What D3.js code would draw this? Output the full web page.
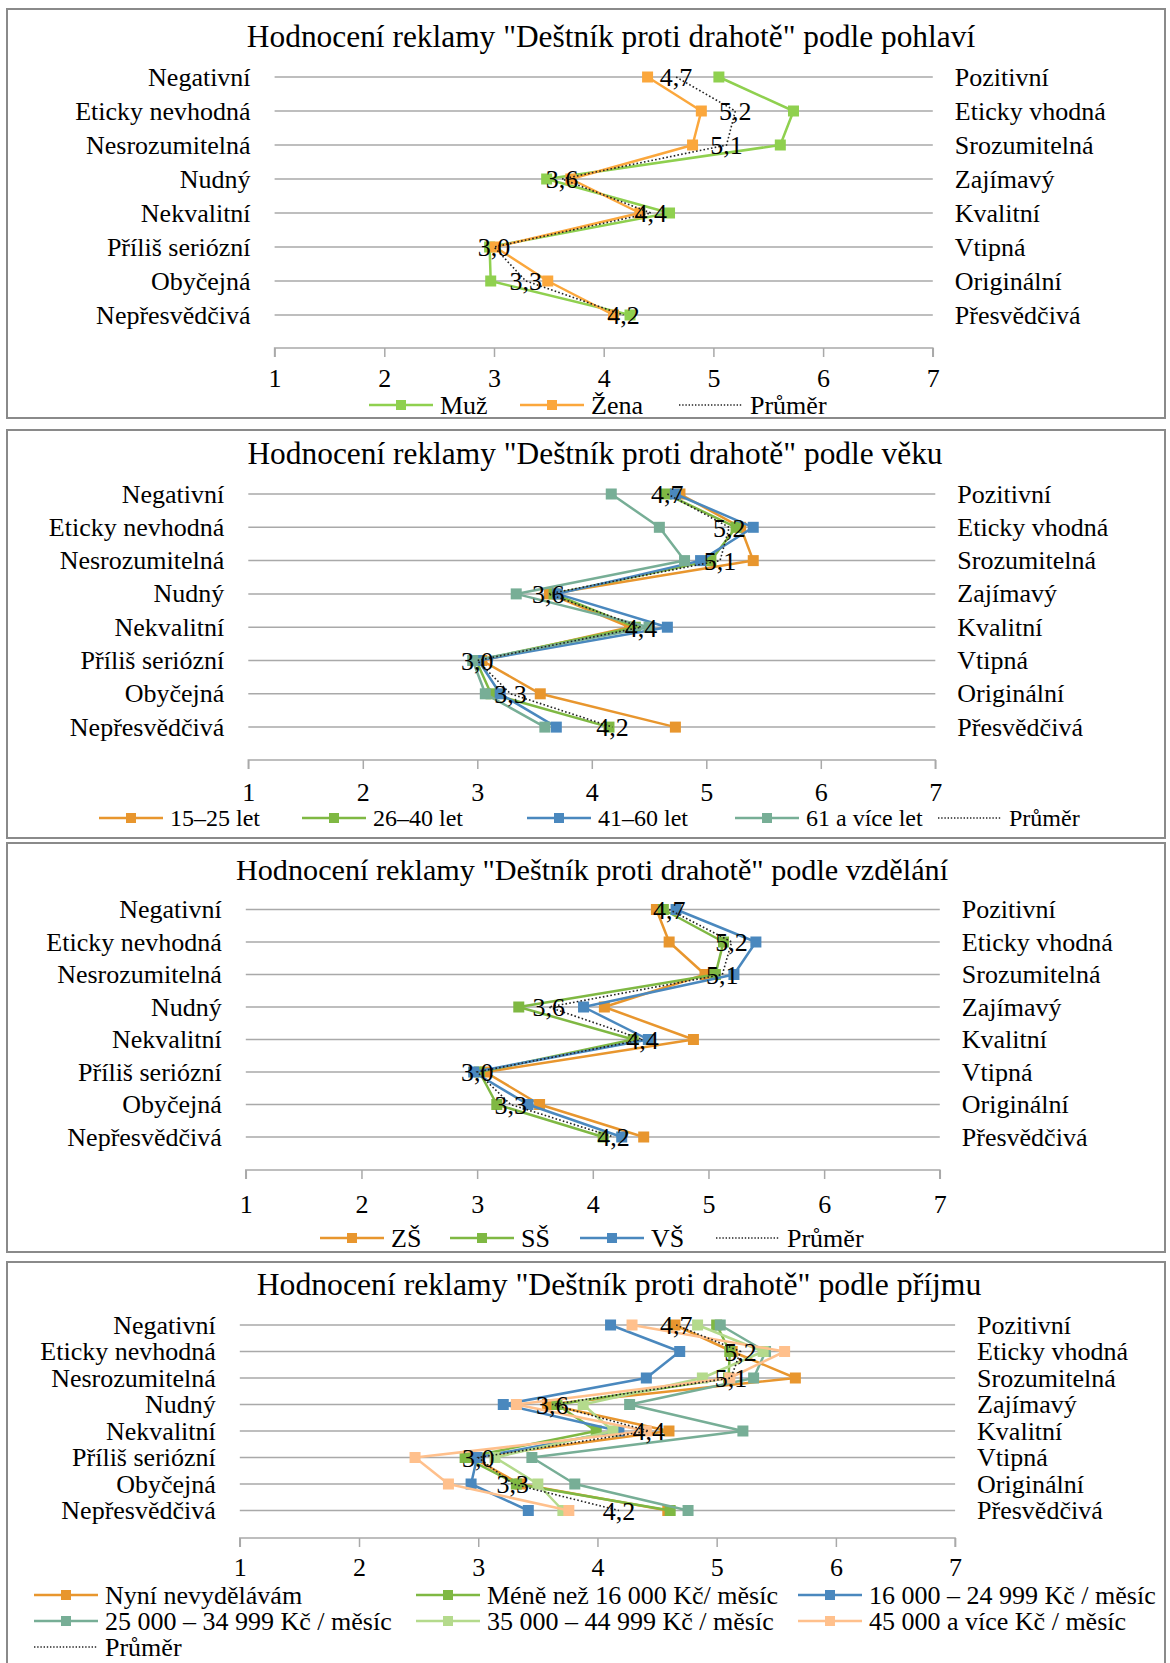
<!DOCTYPE html>
<html><head><meta charset="utf-8">
<script src="https://cdn.jsdelivr.net/npm/d3@7"></script>
<style>
body{margin:0;background:#fff}
svg{display:block}
text{font-family:"Liberation Serif","Times New Roman",serif;fill:#000}
</style>
</head><body><svg id="c" width="1170" height="1663"></svg>
<script>
// ---------- DATA ----------
const leftLabels = ["Negativní","Eticky nevhodná","Nesrozumitelná","Nudný","Nekvalitní","Příliš seriózní","Obyčejná","Nepřesvědčivá"];
const rightLabels = ["Pozitivní","Eticky vhodná","Srozumitelná","Zajímavý","Kvalitní","Vtipná","Originální","Přesvědčivá"];
const tickValues = [1,2,3,4,5,6,7];
const titles = [
  'Hodnocení reklamy "Deštník proti drahotě" podle pohlaví',
  'Hodnocení reklamy "Deštník proti drahotě" podle věku',
  'Hodnocení reklamy "Deštník proti drahotě" podle vzdělání',
  'Hodnocení reklamy "Deštník proti drahotě" podle příjmu'
];
const avgName = "Průměr";
const prumer = [4.66, 5.20, 5.12, 3.62, 4.43, 3.00, 3.29, 4.18];

// gender
const genderNames = ["Muž","Žena"];
const muz  = [5.05, 5.73, 5.61, 3.48, 4.60, 2.96, 2.97, 4.24];
const zena = [4.40, 4.89, 4.81, 3.70, 4.33, 3.01, 3.49, 4.09];

// age
const ageNames = ["15–25 let","26–40 let","41–60 let","61 a více let"];
const age15 = [4.77, 5.30, 5.41, 3.63, 4.33, 3.04, 3.55, 4.73];
const age26 = [4.65, 5.26, 5.04, 3.67, 4.38, 2.99, 3.12, 4.15];
const age41 = [4.73, 5.41, 4.95, 3.70, 4.66, 3.01, 3.20, 3.69];
const age61 = [4.17, 4.59, 4.81, 3.34, 4.50, 2.96, 3.07, 3.59];

// education
const eduNames = ["ZŠ","SŠ","VŠ"];
const zs = [4.55, 4.66, 4.97, 4.10, 4.87, 3.07, 3.54, 4.44];
const ss = [4.61, 5.13, 5.06, 3.36, 4.35, 3.02, 3.17, 4.09];
const vs = [4.72, 5.41, 5.22, 3.92, 4.48, 2.97, 3.44, 4.25];

// income
const incomeNames = ["Nyní nevydělávám","Méně než 16 000 Kč/ měsíc","16 000 – 24 999 Kč / měsíc","25 000 – 34 999 Kč / měsíc","35 000 – 44 999 Kč / měsíc","45 000 a více Kč / měsíc"];
const incNyni = [4.65, 5.13, 5.66, 3.58, 4.60, 2.95, 3.35, 4.59];
const inc0    = [5.00, 5.11, 5.10, 3.66, 3.99, 2.89, 3.32, 4.61];
const inc16   = [4.11, 4.69, 4.41, 3.21, 4.18, 2.99, 2.94, 3.42];
const inc25   = [5.03, 5.41, 5.31, 4.27, 5.22, 3.45, 3.81, 4.76];
const inc35   = [4.84, 5.39, 4.88, 3.88, 4.13, 3.14, 3.50, 3.71];
const inc45   = [4.29, 5.57, 5.11, 3.32, 4.41, 2.47, 2.75, 3.76];

// ---------- STYLE / LAYOUT ----------
const C = {orange:"#e8962e", green:"#7fb843", blue:"#4a88be", teal:"#77ae96", lgreen:"#b4da8c", peach:"#ffc08c"};
const panels = [
  {title:titles[0], titleX:611, titleSize:31.4, frame:[7,9,1158,409], xr:[274.6,932.8], row0:77, step:34, axisY:348, tickY:378, legY:405, legX:[369,520,679], legSize:26,
   series:[{name:genderNames[0], v:muz, c:"#8fd04f"},{name:genderNames[1], v:zena, c:"#fba73c"}]},
  {title:titles[1], titleX:595, titleSize:31.4, frame:[7,430,1158,408], xr:[248.3,935.3], row0:494, step:33.3, axisY:760, tickY:792, legY:818, legX:[99,302,527,735,938], legSize:24,
   series:[{name:ageNames[0], v:age15, c:C.orange},{name:ageNames[1], v:age26, c:C.green},{name:ageNames[2], v:age41, c:C.blue},{name:ageNames[3], v:age61, c:C.teal}]},
  {title:titles[2], titleX:592, titleSize:30.2, frame:[7,843,1158,409], xr:[245.8,939.8], row0:909.5, step:32.5, axisY:1170, tickY:1204, legY:1238, legX:[320,450,580,716], legSize:26,
   series:[{name:eduNames[0], v:zs, c:C.orange},{name:eduNames[1], v:ss, c:C.green},{name:eduNames[2], v:vs, c:C.blue}]},
  {title:titles[3], titleX:619, titleSize:31.7, frame:[7,1262,1158,405], xr:[239.8,955.1], row0:1325, step:26.5, axisY:1538, tickY:1567, legSize:26, grid:{cols:[34,416,798], rows:[1595,1621,1647]},
   series:[{name:incomeNames[0], v:incNyni, c:C.orange},{name:incomeNames[1], v:inc0, c:C.green},{name:incomeNames[2], v:inc16, c:C.blue},
           {name:incomeNames[3], v:inc25, c:C.teal},{name:incomeNames[4], v:inc35, c:C.lgreen},{name:incomeNames[5], v:inc45, c:C.peach}]}
];

const svg = d3.select("#c");
const fmt = v => d3.format(".1f")(v).replace(".", ",");
const MS = 11;

panels.forEach(p => {
  const g = svg.append("g");
  g.append("rect").attr("x",p.frame[0]).attr("y",p.frame[1]).attr("width",p.frame[2]).attr("height",p.frame[3])
    .attr("fill","#fff").attr("stroke","#8a8a8a").attr("stroke-width",2);
  const x = d3.scaleLinear().domain([1,7]).range(p.xr);
  const y = d3.scalePoint().domain(leftLabels).range([p.row0, p.row0 + p.step*(leftLabels.length-1)]);

  g.append("text").attr("x",p.titleX).attr("y",p.row0-30).attr("text-anchor","middle")
    .style("font-size",p.titleSize+"px").text(p.title);

  // row grid lines
  g.selectAll(".grid").data(leftLabels).enter().append("line")
    .attr("x1",x(1)).attr("x2",x(7)).attr("y1",d=>y(d)).attr("y2",d=>y(d))
    .attr("stroke","#a9a9a9").attr("stroke-width",1.5);
  // left / right labels
  g.selectAll(".ll").data(leftLabels).enter().append("text")
    .attr("x",x(1)-24).attr("y",d=>y(d)).attr("dy","0.33em").attr("text-anchor","end")
    .style("font-size","26px").text(d=>d);
  g.selectAll(".rl").data(rightLabels).enter().append("text")
    .attr("x",x(7)+22).attr("y",(d,i)=>y(leftLabels[i])).attr("dy","0.33em")
    .style("font-size","26px").text(d=>d);

  // x axis
  const ax = g.append("g").attr("transform",`translate(0,${p.axisY})`)
    .call(d3.axisBottom(x).tickValues(tickValues).tickSize(9).tickFormat(d3.format("d")));
  ax.select(".domain").attr("stroke","#a9a9a9").attr("stroke-width",1.5).attr("d",`M${x(1)},9V0H${x(7)}V9`);
  ax.selectAll(".tick line").attr("stroke","#a9a9a9").attr("stroke-width",1.5);
  ax.selectAll(".tick text").attr("y",p.tickY-p.axisY).attr("dy","0.33em")
    .style("font-size","26px").style("font-family",'"Liberation Serif",serif').attr("fill","#000");

  const line = d3.line().x(d=>x(d[0])).y(d=>y(d[1]));
  p.series.forEach(s => {
    const pts = s.v.map((v,i)=>[v,leftLabels[i]]);
    g.append("path").attr("d",line(pts)).attr("fill","none").attr("stroke",s.c).attr("stroke-width",2.5).attr("stroke-linejoin","round");
    g.selectAll(null).data(pts).enter().append("rect")
      .attr("x",d=>x(d[0])-MS/2).attr("y",d=>y(d[1])-MS/2).attr("width",MS).attr("height",MS).attr("fill",s.c);
  });
  const apts = prumer.map((v,i)=>[v,leftLabels[i]]);
  g.append("path").attr("d",line(apts)).attr("fill","none").attr("stroke","#222").attr("stroke-width",1.6).attr("stroke-dasharray","1.6,2.2");
  g.selectAll(null).data(apts).enter().append("text")
    .attr("x",d=>x(d[0])).attr("y",d=>y(d[1])).attr("dy","0.36em").attr("text-anchor","middle")
    .style("font-size","26px").text(d=>fmt(d[0]));

  // legend
  const items = p.series.map(s=>({name:s.name,c:s.c,dot:false})).concat([{name:avgName,c:"#222",dot:true}]);
  const drawItem = (it, lx, ly) => {
    const li = g.append("g");
    li.append("line").attr("x1",lx).attr("x2",lx+64).attr("y1",ly).attr("y2",ly)
      .attr("stroke",it.c).attr("stroke-width",it.dot?1.4:2.5).attr("stroke-dasharray",it.dot?"1.4,1.8":null);
    if(!it.dot) li.append("rect").attr("x",lx+32-5).attr("y",ly-5).attr("width",10).attr("height",10).attr("fill",it.c);
    li.append("text").attr("x",lx+71).attr("y",ly).attr("dy","0.33em").style("font-size",p.legSize+"px").text(it.name);
  };
  if(p.grid){
    items.forEach((it,i)=>drawItem(it, p.grid.cols[i%3], p.grid.rows[Math.floor(i/3)]));
  } else {
    items.forEach((it,i)=>drawItem(it, p.legX[i], p.legY));
  }
});
</script></body></html>
